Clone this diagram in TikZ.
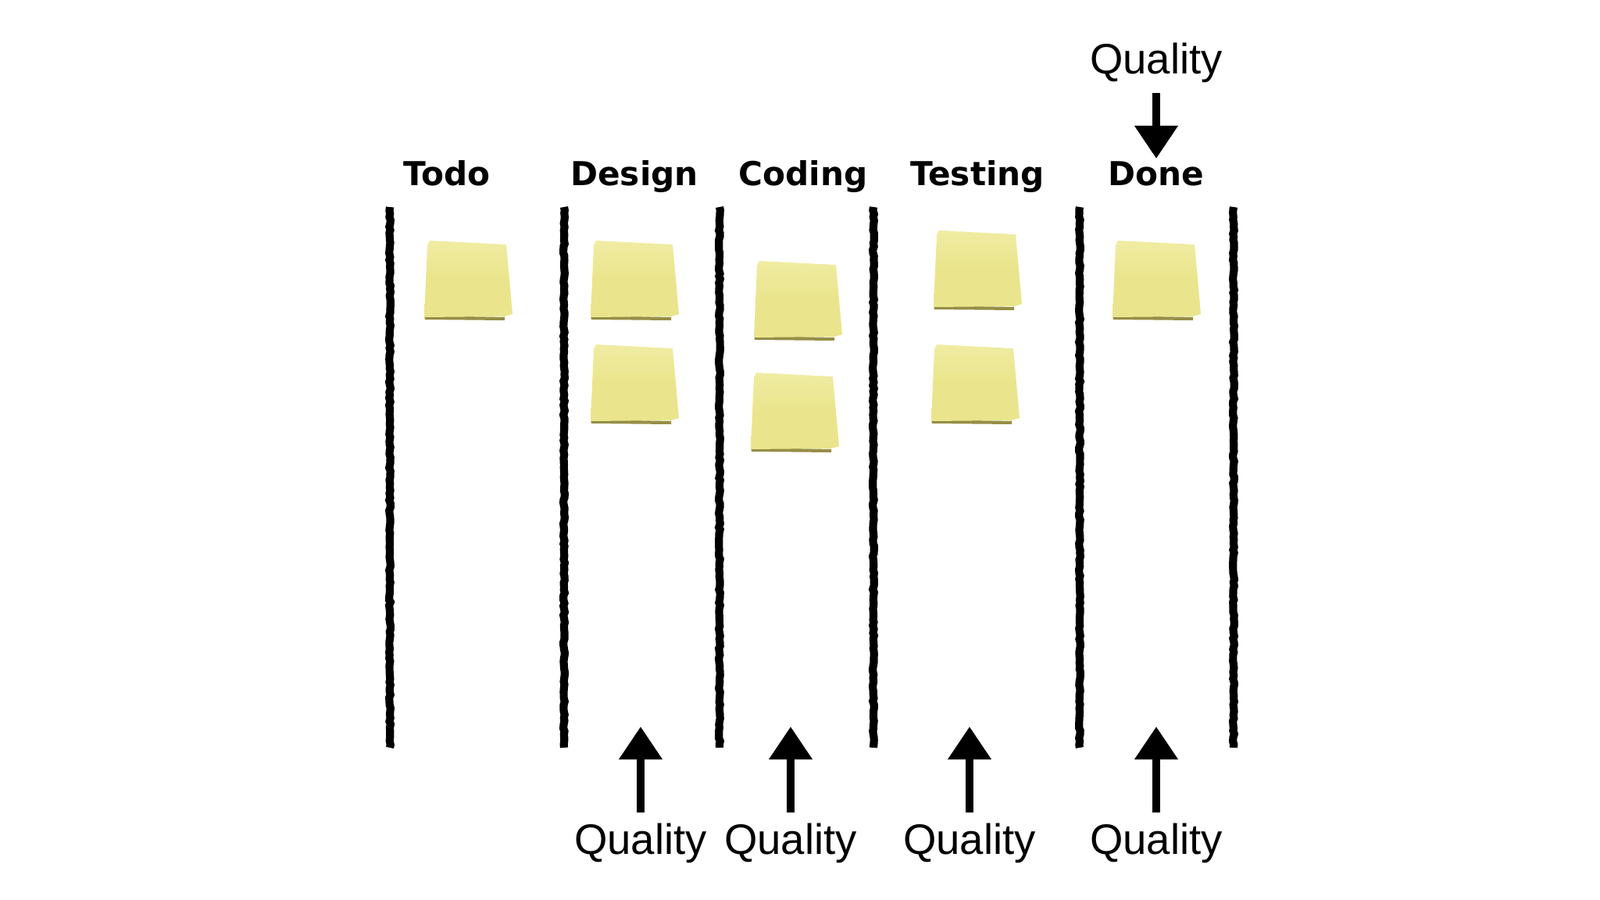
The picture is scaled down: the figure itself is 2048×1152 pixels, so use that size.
\documentclass[tikz,border=0pt]{standalone}
\usepackage{fontspec}
\setmainfont{Liberation Sans}
\newfontfamily\chalkfont{DejaVu Sans}
\usetikzlibrary{arrows.meta,decorations.pathmorphing}
\definecolor{notefill}{RGB}{234,229,140}
\definecolor{notelight}{RGB}{240,236,162}
\definecolor{noteshade}{RGB}{150,142,70}
\tikzset{
  chalk/.style={line width=2.9pt, decorate,
    decoration={random steps, segment length=1.2pt, amplitude=0.25pt}},
  qarrow/.style={line width=2.9pt, -{Triangle[width=0.53cm, length=0.42cm]}},
  head/.style={font=\chalkfont\bfseries\fontsize{12}{14}\selectfont, anchor=base, inner sep=1pt},
  qlabel/.style={font=\fontsize{15.5}{18}\selectfont, inner sep=3.5pt},
  postit/.pic={
    \fill[noteshade] (-5,96) -- (98,98) -- (98,102) -- (-4,101) -- cycle;
    \shade[top color=notelight, bottom color=notefill, middle color=notefill]
      (2,0) -- (100,5) -- (108,94) -- (98,97) -- (-5,98) -- (-1,6) -- cycle;
  }
}
\begin{document}
\begin{tikzpicture}[x=0.01cm, y=-0.01cm]
\useasboundingbox[fill=white] (0,0) rectangle (2048,1152);
% lanes
\draw[chalk] (499,265) -- (499,957);
\draw[chalk] (722,265) -- (722,957);
\draw[chalk] (921,265) -- (921,957);
\draw[chalk] (1118,265) -- (1118,957);
\draw[chalk] (1382,265) -- (1382,957);
\draw[chalk] (1579,265) -- (1579,957);
% column titles
\node[head] (todo) at (572,238) {Todo};
\node[head] (design) at (812,238) {Design};
\node[head] (coding) at (1028,238) {Coding};
\node[head] (testing) at (1251,238) {Testing};
\node[head] (done) at (1480,238) {Done};
% sticky notes
\pic at (548,308) {postit};
\pic at (761,308) {postit};
\pic at (761,441) {postit};
\pic at (970,334) {postit};
\pic at (966,477) {postit};
\pic at (1200,295) {postit};
\pic at (1197,441) {postit};
\pic at (1429,308) {postit};
% quality
\node[qlabel, anchor=base] (qtop) at (1480,95) {Quality};
\node[qlabel, anchor=base] (qdesign) at (820,1093) {Quality};
\node[qlabel, anchor=base] (qcoding) at (1012,1093) {Quality};
\node[qlabel, anchor=base] (qtesting) at (1241,1093) {Quality};
\node[qlabel, anchor=base] (qdone) at (1480,1093) {Quality};
\coordinate (tdesign) at (820,930);
\coordinate (tcoding) at (1012,930);
\coordinate (ttesting) at (1241,930);
\coordinate (tdone) at (1480,930);
\draw[qarrow] (qtop.south) -- (done.north);
\draw[qarrow] (qdesign.north) -- (tdesign);
\draw[qarrow] (qcoding.north) -- (tcoding);
\draw[qarrow] (qtesting.north) -- (ttesting);
\draw[qarrow] (qdone.north) -- (tdone);
\end{tikzpicture}
\end{document}
